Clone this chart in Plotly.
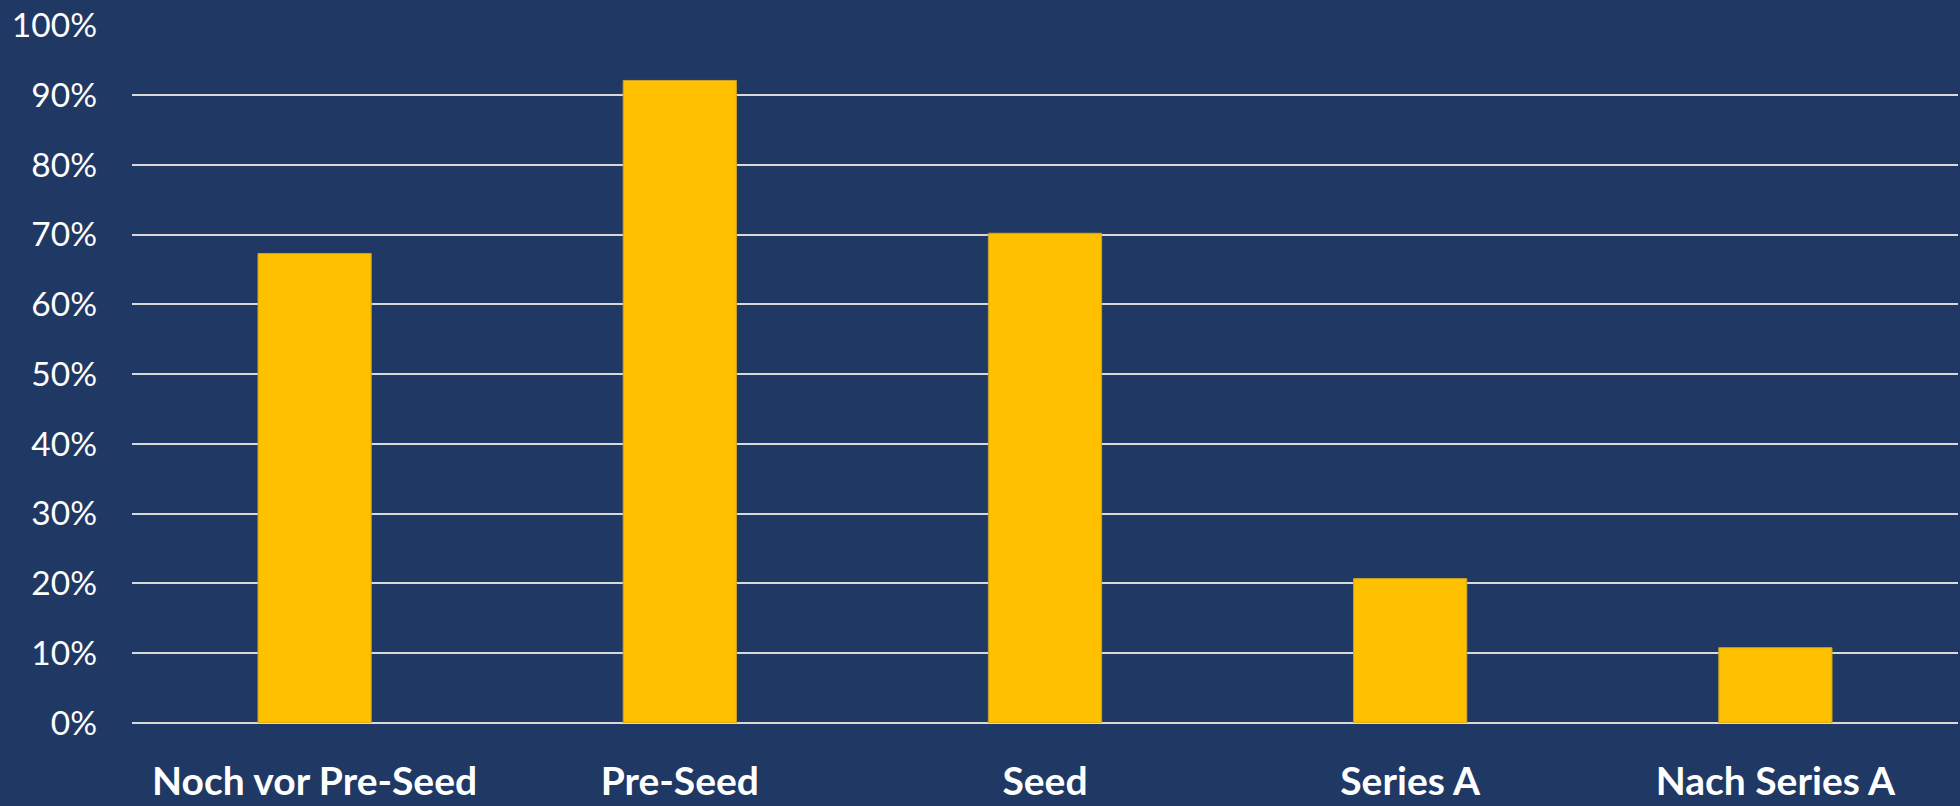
import plotly.graph_objects as go

categories = ["Noch vor Pre-Seed", "Pre-Seed", "Seed", "Series A", "Nach Series A"]
values = [0.673, 0.921, 0.702, 0.207, 0.108]
tick_vals = [0, 0.1, 0.2, 0.3, 0.4, 0.5, 0.6, 0.7, 0.8, 0.9, 1.0]
tick_text = ["0%", "10%", "20%", "30%", "40%", "50%", "60%", "70%", "80%", "90%", "100%"]

BG = "#203864"
BAR = "#FFC000"
GRID = "#D9D9D9"

fig = go.Figure(
    go.Bar(
        x=categories,
        y=values,
        width=0.31,
        marker=dict(color=BAR, line=dict(color="#C9A227", width=1)),
        hoverinfo="x+y",
    )
)

fig.update_layout(
    width=1960,
    height=806,
    paper_bgcolor=BG,
    plot_bgcolor=BG,
    margin=dict(l=132, r=2, t=25, b=83),
    showlegend=False,
    font=dict(family="Lato, Carlito, Calibri, sans-serif", color="white"),
)

fig.update_yaxes(
    range=[0, 1.0005],
    tickvals=tick_vals,
    ticktext=tick_text,
    showgrid=True,
    gridcolor=GRID,
    gridwidth=1.6,
    zeroline=True,
    zerolinecolor=GRID,
    zerolinewidth=1.6,
    showline=False,
    tickfont=dict(size=33.5, color="white", family="Lato, sans-serif"),
    ticklabelstandoff=34,
    fixedrange=True,
)

fig.update_xaxes(
    showgrid=False,
    showline=False,
    tickfont=dict(size=39, color="white", family="Lato, sans-serif", weight="bold"),
    ticklabelstandoff=32,
    fixedrange=True,
)

fig.write_html("out.html")
